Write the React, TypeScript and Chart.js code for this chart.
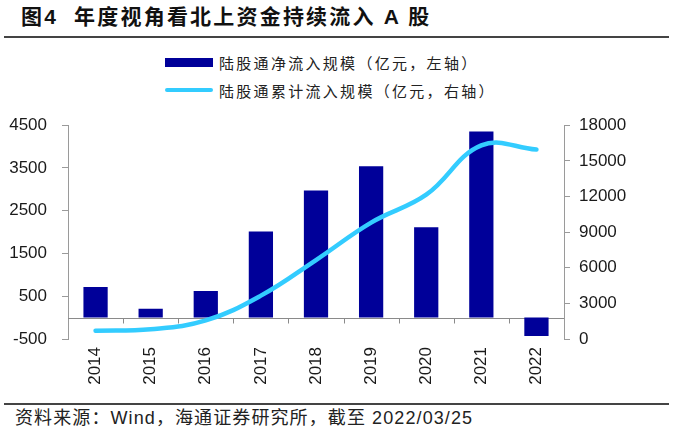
import React, { useEffect, useRef } from "react";
import { Chart, registerables } from "chart.js";

Chart.register(...registerables);

const years = ["2014", "2015", "2016", "2017", "2018", "2019", "2020", "2021", "2022"];
const netInflow = [715, 205, 625, 2015, 2970, 3540, 2112, 4350, -430];
const cumulativeInflow = [690, 820, 1560, 3650, 6650, 9800, 12150, 16300, 15950];
const leftAxisRange = [-500, 4500, 1000];
const rightAxisRange = [0, 18000, 3000];
const seriesNames = ["陆股通净流入规模（亿元，左轴）", "陆股通累计流入规模（亿元，右轴）"];
const titleNo = "图4";
const titleText = "年度视角看北上资金持续流入 A 股";
const sourceText = "资料来源：Wind，海通证券研究所，截至 2022/03/25";

const BAR_COLOR = "#000099";
const LINE_COLOR = "#33CCFF";
const AXIS_COLOR = "#9a9a9a";
const LATIN = "'Liberation Sans', Arial, sans-serif";
const CJK = "'Liberation Sans', 'Noto Sans CJK SC', sans-serif";

const zeroAxisPlugin = {
  id: "zeroAxis",
  beforeDatasetsDraw(chart: any) {
    const { ctx, chartArea, scales } = chart;
    const y0 = scales.y.getPixelForValue(0);
    const x = scales.x;
    ctx.save();
    ctx.strokeStyle = "#8a8a8a";
    ctx.lineWidth = 1;
    ctx.beginPath();
    ctx.moveTo(chartArea.left, Math.round(y0) + 0.5);
    ctx.lineTo(chartArea.right, Math.round(y0) + 0.5);
    for (let i = 1; i < years.length; i++) {
      const bx = Math.round((x.getPixelForValue(i - 1) + x.getPixelForValue(i)) / 2) + 0.5;
      ctx.moveTo(bx, Math.round(y0) + 0.5);
      ctx.lineTo(bx, Math.round(y0) + 5.5);
    }
    ctx.stroke();
    ctx.restore();
  },
};

const plain = (v: any) => String(v);

export default function App() {
  const ref = useRef<HTMLCanvasElement | null>(null);

  useEffect(() => {
    if (!ref.current) return;
    const chart = new Chart(ref.current, {
      type: "bar",
      data: {
        labels: years,
        datasets: [
          {
            type: "line",
            label: seriesNames[1],
            data: cumulativeInflow,
            yAxisID: "y1",
            borderColor: LINE_COLOR,
            backgroundColor: LINE_COLOR,
            borderWidth: 4.5,
            pointRadius: 0,
            tension: 0.4,
            borderCapStyle: "round",
            order: 1,
          } as any,
          {
            type: "bar",
            label: seriesNames[0],
            data: netInflow,
            yAxisID: "y",
            backgroundColor: BAR_COLOR,
            borderWidth: 0,
            categoryPercentage: 1,
            barPercentage: 0.44,
            order: 2,
          },
        ],
      },
      options: {
        responsive: false,
        animation: false,
        devicePixelRatio: 1,
        layout: { padding: { top: 21, left: 0, right: 0, bottom: 0 } },
        plugins: {
          legend: { display: false },
          tooltip: { enabled: false },
        },
        scales: {
          x: {
            offset: true,
            grid: { display: false, drawTicks: false },
            border: { display: false },
            ticks: {
              autoSkip: false,
              minRotation: 90,
              maxRotation: 90,
              padding: 8,
              color: "#1a1a1a",
              font: { family: LATIN, size: 17 },
            },
            afterFit(scale: any) {
              scale.height = 61;
            },
          },
          y: {
            position: "left",
            min: leftAxisRange[0],
            max: leftAxisRange[1],
            grid: {
              display: true,
              drawOnChartArea: false,
              drawTicks: true,
              tickLength: 6,
              color: AXIS_COLOR,
            },
            border: { display: true, color: AXIS_COLOR, width: 1 },
            ticks: {
              stepSize: leftAxisRange[2],
              padding: 15,
              color: "#1a1a1a",
              font: { family: LATIN, size: 17 },
              callback: plain,
            },
            afterFit(scale: any) {
              scale.width = 68;
            },
          },
          y1: {
            position: "right",
            min: rightAxisRange[0],
            max: rightAxisRange[1],
            grid: {
              display: true,
              drawOnChartArea: false,
              drawTicks: true,
              tickLength: 6,
              color: AXIS_COLOR,
            },
            border: { display: true, color: AXIS_COLOR, width: 1 },
            ticks: {
              stepSize: rightAxisRange[2],
              padding: 9,
              color: "#1a1a1a",
              font: { family: LATIN, size: 17 },
              callback: plain,
            },
            afterFit(scale: any) {
              scale.width = 109;
            },
          },
        },
      },
      plugins: [zeroAxisPlugin],
    });
    return () => chart.destroy();
  }, []);

  const legendRow = (top: number, kind: "bar" | "line", text: string) => (
    <div
      style={{
        position: "absolute",
        left: 165,
        top,
        height: 20,
        display: "flex",
        alignItems: "center",
        whiteSpace: "nowrap",
      }}
    >
      {kind === "bar" ? (
        <div style={{ width: 48, height: 9, background: BAR_COLOR }} />
      ) : (
        <div style={{ width: 48, height: 4, background: LINE_COLOR, borderRadius: 2 }} />
      )}
      <span
        style={{
          marginLeft: 6,
          fontFamily: CJK,
          fontSize: 15,
          letterSpacing: 2.3,
          color: "#222",
        }}
      >
        {text}
      </span>
    </div>
  );

  return (
    <div
      style={{
        position: "absolute",
        left: 0,
        top: 0,
        width: 673,
        height: 430,
        background: "#fff",
        overflow: "hidden",
        fontFamily: CJK,
      }}
    >
      <div
        style={{
          position: "absolute",
          left: 21,
          top: 4,
          fontSize: 21,
          fontWeight: 700,
          color: "#111",
          whiteSpace: "nowrap",
          letterSpacing: 2.2,
          lineHeight: "26px",
        }}
      >
        <span>{titleNo}</span>
        <span style={{ marginLeft: 16 }}>{titleText}</span>
      </div>
      <div style={{ position: "absolute", left: 4, top: 36, width: 665, height: 2, background: "#444" }} />
      {legendRow(52, "bar", seriesNames[0])}
      {legendRow(80, "line", seriesNames[1])}
      <div style={{ position: "absolute", left: 0, top: 100, width: 673, height: 300 }}>
        <canvas ref={ref} width={673} height={300} style={{ width: 673, height: 300, display: "block" }} />
      </div>
      <div style={{ position: "absolute", left: 4, top: 403, width: 665, height: 2, background: "#444" }} />
      <div
        style={{
          position: "absolute",
          left: 15,
          top: 407,
          fontSize: 18,
          letterSpacing: 1.1,
          color: "#222",
          whiteSpace: "nowrap",
          lineHeight: "22px",
        }}
      >
        {sourceText}
      </div>
    </div>
  );
}
